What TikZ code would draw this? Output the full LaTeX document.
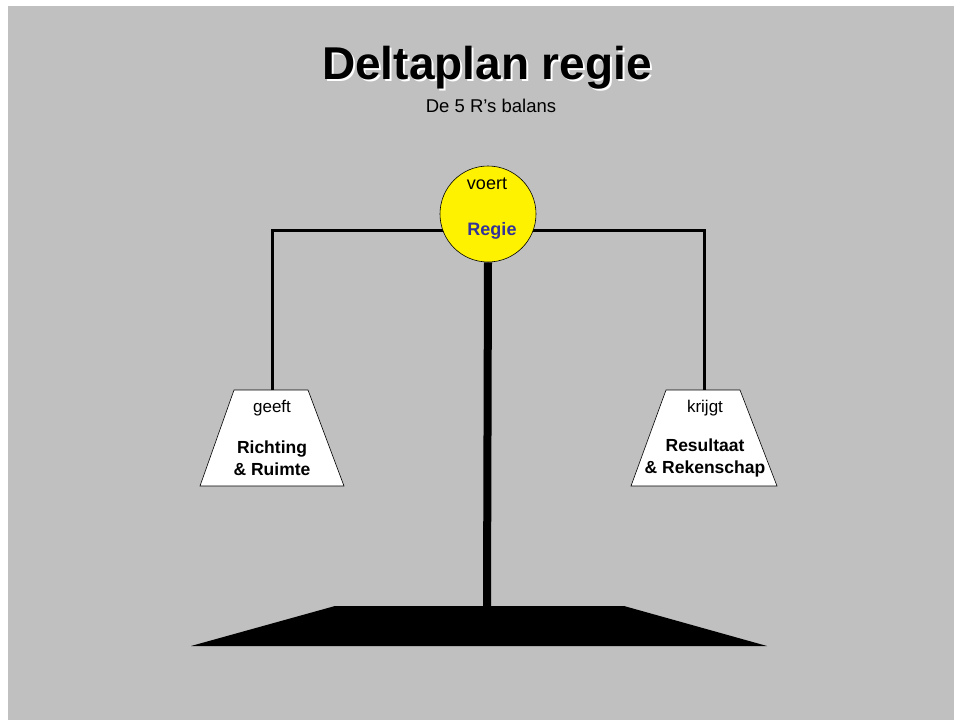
\documentclass[tikz,border=0pt]{standalone}
\usepackage{fontspec}
\setmainfont{Liberation Sans}
\usetikzlibrary{shapes, positioning}
\definecolor{slidegray}{RGB}{192,192,192}
\definecolor{regieblue}{RGB}{51,51,153}

\begin{document}
\begin{tikzpicture}[x=1pt, y=-1pt,
  pan/.style={draw, fill=white, line width=0.6pt},
  wire/.style={line width=3pt},
  txt/.style={font=\fontsize{17}{22}\selectfont, inner sep=0pt},
  boldtxt/.style={font=\fontsize{17.5}{22}\selectfont\bfseries, inner sep=0pt, align=center}]

\useasboundingbox (0,0) rectangle (954,720);
\fill[slidegray] (8,6) rectangle (954,720);

\node[font=\fontsize{46}{55}\selectfont\bfseries, white] (titleshadow) at (489,70) {Deltaplan regie};
\node[font=\fontsize{46}{55}\selectfont\bfseries] (title) at (487,68) {Deltaplan regie};
\node[font=\fontsize{18.5}{22}\selectfont, inner sep=0pt] (subtitle) at (491,106) {De 5 R’s balans};

% voet
\fill[black] (335,606) -- (624,606) -- (767,646) -- (191,646) -- cycle;
\coordinate (base) at (487,606);

% schalen
\filldraw[pan] (234,390) -- (308,390) -- (344,486) -- (200,486) -- cycle;
\filldraw[pan] (666,390) -- (740,390) -- (777,486) -- (631,486) -- cycle;
\coordinate (lpan) at (272,390);
\coordinate (rpan) at (704,390);

\coordinate (bar) at (488,230);
\draw[wire] (lpan) |- (bar) -| (rpan);

\node[circle, minimum size=96pt, inner sep=0pt, draw, fill=yellow, line width=0.6pt] (regie) at (488,214) {};
\draw[line width=8pt] (regie.south) -- (base);

\node[font=\fontsize{18}{22}\selectfont, inner sep=0pt] (voert) at (487,184) {voert};
\node[font=\fontsize{18}{22}\selectfont\bfseries, text=regieblue, inner sep=0pt] (regietxt) at (492,231) {Regie};

\node[txt] (geeft) at (272,408) {geeft};
\node[boldtxt] (richting) at (272,458) {Richting\\\& Ruimte};

\node[txt] (krijgt) at (705,408) {krijgt};
\node[boldtxt] (resultaat) at (705,458) {Resultaat\\\& Rekenschap};

\end{tikzpicture}
\end{document}
